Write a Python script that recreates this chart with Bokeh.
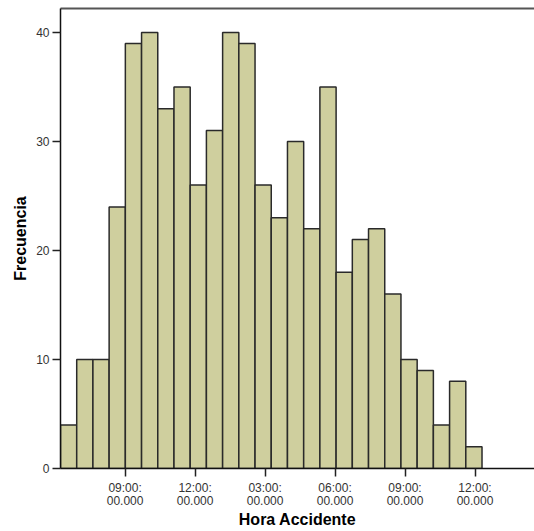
from bokeh.plotting import figure
from bokeh.models import Range1d, FixedTicker, LinearAxis
from bokeh.embed import file_html
from bokeh.resources import INLINE

# Histogram of accident hour (hours of day, 24h clock)
counts = [4, 10, 10, 24, 39, 40, 33, 35, 26, 31, 40, 39, 26, 23, 30, 22, 35,
          18, 21, 22, 16, 10, 9, 4, 8, 2]
bin_start = 6.23
bin_width = 0.695
tick_hours = [9, 12, 15, 18, 21, 24]
tick_labels = ["09:00:\n00.000", "12:00:\n00.000", "03:00:\n00.000",
               "06:00:\n00.000", "09:00:\n00.000", "12:00:\n00.000"]
y_ticks = [0, 10, 20, 30, 40]

lefts = [bin_start + i * bin_width for i in range(len(counts))]
rights = [l + bin_width for l in lefts]

p = figure(frame_width=474, frame_height=460, output_backend="svg",
           toolbar_location=None,
           x_range=Range1d(6.23, 26.55), y_range=Range1d(0, 42.2),
           min_border_left=60, min_border_right=0, min_border_top=8,
           min_border_bottom=60)
p.outline_line_color = None
p.xgrid.visible = False
p.ygrid.visible = False
p.background_fill_color = "white"
p.border_fill_color = "white"

p.quad(left=lefts, right=rights, bottom=0, top=counts,
       fill_color="#cfcf9e", line_color="#2a2a2a", line_width=1.5)

font = "Liberation Sans"

xa = p.xaxis[0]
xa.ticker = FixedTicker(ticks=tick_hours)
xa.major_label_overrides = {h: lab for h, lab in zip(tick_hours, tick_labels)}
xa.axis_label = "Hora Accidente"
xa.axis_label_text_font = font
xa.axis_label_text_font_size = "16px"
xa.axis_label_text_font_style = "bold"
xa.axis_label_text_color = "black"
xa.axis_label_standoff = 0
xa.major_label_text_font = font
xa.major_label_text_font_size = "12px"
xa.major_label_text_line_height = 0.95
xa.major_label_text_color = "#333333"
xa.major_label_standoff = 4
xa.major_tick_out = 8
xa.major_tick_in = 0
xa.major_tick_line_color = "#222222"
xa.major_tick_line_width = 1.5
xa.minor_tick_line_color = None
xa.axis_line_color = "#111111"
xa.axis_line_width = 1.5

ya = p.yaxis[0]
ya.ticker = FixedTicker(ticks=y_ticks)
ya.axis_label = "Frecuencia"
ya.axis_label_text_font = font
ya.axis_label_text_font_size = "16px"
ya.axis_label_text_font_style = "bold"
ya.axis_label_text_color = "black"
ya.axis_label_standoff = 4
ya.major_label_text_font = font
ya.major_label_text_font_size = "12px"
ya.major_label_text_color = "#333333"
ya.major_label_standoff = 3
ya.major_tick_out = 8
ya.major_tick_in = 0
ya.major_tick_line_color = "#222222"
ya.major_tick_line_width = 1.5
ya.minor_tick_line_color = None
ya.axis_line_color = "#111111"
ya.axis_line_width = 1.5

top = LinearAxis(ticker=FixedTicker(ticks=[]), major_label_text_font_size="0px",
                 major_tick_line_color=None, minor_tick_line_color=None,
                 axis_line_color="#555555", axis_line_width=2)
p.add_layout(top, "above")

open("out.html", "w").write(file_html(p, INLINE))
